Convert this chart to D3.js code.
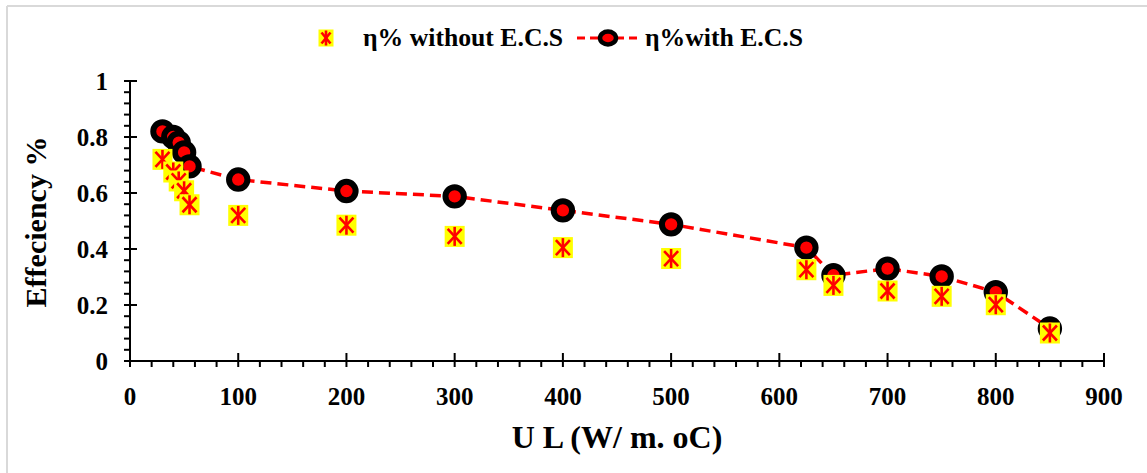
<!DOCTYPE html>
<html><head><meta charset="utf-8">
<script src="https://cdn.jsdelivr.net/npm/d3@7"></script>
<style>
html,body{margin:0;padding:0;background:#fff;}
svg{display:block;font-family:"Liberation Serif","Times New Roman",serif;font-weight:bold;}
</style></head>
<body>
<svg id="c" width="1147" height="473"></svg>
<script>
const ulValues = [30, 40, 45, 50, 55, 100, 200, 300, 400, 500, 625, 650, 700, 750, 800, 850];
const etaWithout = [0.72, 0.675, 0.643, 0.608, 0.558, 0.52, 0.485, 0.445, 0.405, 0.366, 0.326, 0.27, 0.25, 0.231, 0.201, 0.10];
const etaWith = [0.82, 0.80, 0.78, 0.745, 0.695, 0.648, 0.607, 0.588, 0.538, 0.488, 0.405, 0.306, 0.33, 0.302, 0.246, 0.116];
const xTicks = [0, 100, 200, 300, 400, 500, 600, 700, 800, 900];
const yTicks = [0, 0.2, 0.4, 0.6, 0.8, 1];
const seriesNames = ["η% without E.C.S", "η%with E.C.S"];
const xTitle = "U L (W/ m. oC)";
const yTitle = "Effeciency %";

const svg = d3.select("#c");
// light frame (top and left visible)
svg.append("line").attr("x1",7).attr("x2",1147).attr("y1",6).attr("y2",6).attr("stroke","#d9d9d9").attr("stroke-width",2);
svg.append("line").attr("x1",7).attr("x2",7).attr("y1",6).attr("y2",473).attr("stroke","#d9d9d9").attr("stroke-width",2);

const x = d3.scaleLinear().domain([0,900]).range([130,1104]);
const y = d3.scaleLinear().domain([0,1]).range([361,81]);

// minor ticks
const xMinor = d3.range(0,901,20).filter(v=>v%100!==0);
const yMinor = d3.range(0,1.0001,0.04).filter(v=>Math.abs(v*5-Math.round(v*5))>1e-6);
const ax = svg.append("g");
ax.selectAll(".xm").data(xMinor).join("line").attr("x1",d=>x(d)).attr("x2",d=>x(d)).attr("y1",y(0)).attr("y2",y(0)+6).attr("stroke","#000").attr("stroke-width",2);
ax.selectAll(".ym").data(yMinor).join("line").attr("y1",d=>y(d)).attr("y2",d=>y(d)).attr("x1",x(0)-6).attr("x2",x(0)).attr("stroke","#000").attr("stroke-width",2);
ax.selectAll(".xM").data(xTicks).join("line").attr("x1",d=>x(d)).attr("x2",d=>x(d)).attr("y1",y(0)-8).attr("y2",y(0)+6).attr("stroke","#000").attr("stroke-width",2);
ax.selectAll(".yM").data(yTicks).join("line").attr("y1",d=>y(d)).attr("y2",d=>y(d)).attr("x1",x(0)-6).attr("x2",x(0)+7).attr("stroke","#000").attr("stroke-width",2);
ax.append("line").attr("x1",x(0)).attr("x2",x(900)).attr("y1",y(0)).attr("y2",y(0)).attr("stroke","#000").attr("stroke-width",2);
ax.append("line").attr("x1",x(0)).attr("x2",x(0)).attr("y1",y(0)).attr("y2",y(1)).attr("stroke","#000").attr("stroke-width",2);

ax.selectAll(".xl").data(xTicks).join("text").attr("x",d=>x(d)).attr("y",405).attr("text-anchor","middle")
  .attr("font-size",25).text(d=>d);
ax.selectAll(".yl").data(yTicks).join("text").attr("x",108).attr("y",d=>y(d)+8.5).attr("text-anchor","end")
  .attr("font-size",25).text(d=>d3.format("")(d));

svg.append("text").attr("x",617).attr("y",448).attr("text-anchor","middle").attr("font-size",32).text(xTitle);
svg.append("text").attr("transform","translate(46,222) rotate(-90)").attr("text-anchor","middle").attr("font-size",30).text(yTitle);

// with ECS line + circles
const line = d3.line().x((d,i)=>x(ulValues[i])).y(d=>y(d));
svg.append("path").datum(etaWith).attr("d",line).attr("fill","none").attr("stroke","#ff0000").attr("stroke-width",3.5).attr("stroke-dasharray","11,6");
svg.selectAll(".cw").data(etaWith).join("circle").attr("cx",(d,i)=>x(ulValues[i])).attr("cy",d=>y(d)).attr("r",9.2)
  .attr("fill","#ff0000").attr("stroke","#000").attr("stroke-width",6);

// without ECS squares with asterisks
function star(g, cx, cy, w, h){
  g.append("rect").attr("x",cx-w/2).attr("y",cy-h/2).attr("width",w).attr("height",h).attr("fill","#ffff00");
  const sw=2.6, dx=w/2-3, dy=h/2-3;
  g.append("line").attr("x1",cx).attr("x2",cx).attr("y1",cy-h/2+1).attr("y2",cy+h/2-1).attr("stroke","#ff0000").attr("stroke-width",sw);
  g.append("line").attr("x1",cx-dx).attr("x2",cx+dx).attr("y1",cy-dy).attr("y2",cy+dy).attr("stroke","#ff0000").attr("stroke-width",sw);
  g.append("line").attr("x1",cx-dx).attr("x2",cx+dx).attr("y1",cy+dy).attr("y2",cy-dy).attr("stroke","#ff0000").attr("stroke-width",sw);
}
const sq = svg.append("g");
etaWithout.forEach((v,i)=>star(sq, x(ulValues[i]), y(v), 20, 21));

// legend
const lg = svg.append("g");
star(lg, 326, 38, 15, 17);
lg.append("text").attr("x",363).attr("y",46).attr("font-size",25.7).text(seriesNames[0]);
lg.append("line").attr("x1",577).attr("x2",640).attr("y1",38).attr("y2",38).attr("stroke","#ff0000").attr("stroke-width",3).attr("stroke-dasharray","8,5");
lg.append("ellipse").attr("cx",608).attr("cy",38).attr("rx",8).attr("ry",6.5).attr("fill","#ff0000").attr("stroke","#000").attr("stroke-width",4.5);
lg.append("text").attr("x",645).attr("y",46).attr("font-size",25.7).text(seriesNames[1]);
</script>
</body></html>
